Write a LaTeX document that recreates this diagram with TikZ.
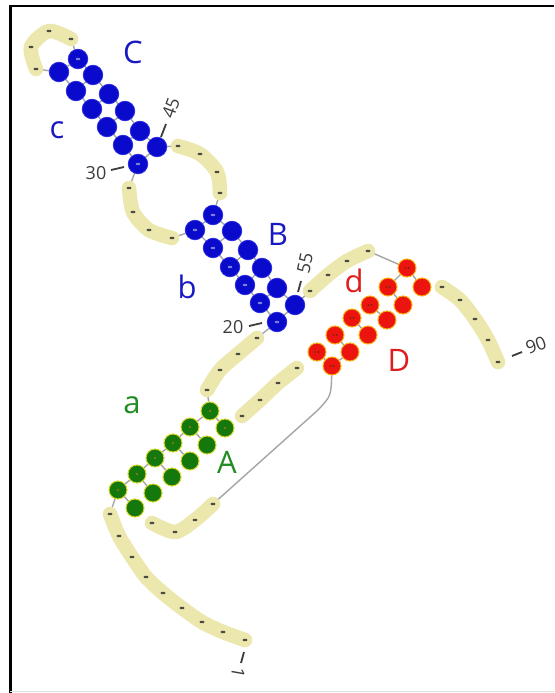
\documentclass[tikz,border=0pt]{standalone}
\usepackage{fontspec}
\setmainfont{Open Sans}
\usetikzlibrary{backgrounds}
\definecolor{bandc}{RGB}{236,231,172}
\definecolor{linkc}{RGB}{165,165,165}
\definecolor{dotc}{RGB}{75,75,65}
\definecolor{ntblue}{RGB}{10,10,205}
\definecolor{ntblueedge}{RGB}{40,40,225}
\definecolor{ntred}{RGB}{235,20,15}
\definecolor{ntrededge}{RGB}{250,175,20}
\definecolor{ntgreen}{RGB}{20,120,12}
\definecolor{ntgreenedge}{RGB}{215,215,40}
\definecolor{markblue}{RGB}{120,130,210}
\definecolor{markred}{RGB}{110,40,0}
\definecolor{markgreen}{RGB}{160,120,20}
\definecolor{lblblue}{RGB}{25,25,195}
\definecolor{lblred}{RGB}{222,30,30}
\definecolor{lblgreen}{RGB}{35,140,35}
\definecolor{numc}{RGB}{60,60,60}
\begin{document}
\begin{tikzpicture}[x=1pt,y=-1pt,
  band/.style={draw=bandc,line width=14.5pt,line cap=round,line join=round},
  link/.style={draw=linkc,line width=1.4pt},
  unp/.style={rectangle,rounded corners=0.8pt,fill=dotc,inner sep=0pt,minimum width=4.6pt,minimum height=2.4pt},
  pairb/.style={circle,inner sep=0pt,minimum size=19.5pt,fill=ntblue,draw=ntblueedge,line width=0.8pt},
  pairr/.style={circle,inner sep=0pt,minimum size=18pt,fill=ntred,draw=ntrededge,line width=1pt},
  pairg/.style={circle,inner sep=0pt,minimum size=18pt,fill=ntgreen,draw=ntgreenedge,line width=1pt},
  lbl/.style={font=\fontsize{31}{31}\selectfont,inner sep=0pt},
  num/.style={font=\fontsize{18}{18}\selectfont,text=numc,inner sep=0pt},
  tick/.style={draw=numc,line width=1.8pt}
]
\useasboundingbox (0,0) rectangle (554,693);

% unpaired nucleotides
\foreach \n/\x/\y in {1/245/640,2/223/632,3/202/622,4/182/608,5/163/593,6/146/577,7/132/557,8/119/536,9/110/514,
  16/207/390,17/220/370,18/238/354,19/257/338,
  26/172/238,27/149/230,28/133/212,29/129/188,
  36/36/69,37/31/47,38/49/31,39/71/39,
  46/178/146,47/200/154,48/217/172,49/220/193,
  56/310/291,57/328/275,58/347/261,59/368/251,
  66/297/368,67/278/383,68/260/400,69/242/416,
  76/152/523,77/175/532,78/195/520,79/213/504,
  86/442/287,87/460/300,88/475/319,89/488/340,90/498/362}
  \node[unp] (n\n) at (\x,\y) {};

% helix A (green)
\foreach \n/\x/\y in {10/118/490,11/137/474,12/155/458,13/173/443,14/190/427,15/210/411,
  70/225/428,71/207/445,72/190/461,73/172/477,74/153/493,75/135/508}
  \node[pairg] (n\n) at (\x,\y) {};
% helix B and C (blue)
\foreach \n/\x/\y in {20/277/322,21/260/303,22/245/285,23/230/267,24/213/248,25/195/230,
  50/213/215,51/232/231,52/248/250,53/262/268,54/277/288,55/295/305,
  30/138/164,31/123/145,32/107/127,33/92/109,34/76/91,35/59/72,
  40/78/59,41/93/75,42/109/94,43/125/111,44/140/131,45/157/147}
  \node[pairb] (n\n) at (\x,\y) {};
% helix D (red)
\foreach \n/\x/\y in {60/407/268,61/388/287,62/370/305,63/352/318,64/335/335,65/317/352,
  80/332/366,81/350/352,82/368/335,83/387/320,84/403/305,85/422/287}
  \node[pairr] (n\n) at (\x,\y) {};

% marks inside paired nucleotides
\foreach \n in {20,...,25,30,...,35,40,...,45,50,...,55}
  \fill[markblue] (n\n.center) ellipse (2.4pt and 1.2pt);
\foreach \n in {60,...,65,80,...,85}{
  \fill[markred] ([xshift=-1.6pt]n\n.center) circle (0.9pt);
  \fill[markred] ([xshift=1.6pt]n\n.center) circle (0.9pt);}
\foreach \n in {10,...,15,70,...,75}
  \fill[markgreen] (n\n.center) circle (1.1pt);

\begin{pgfonlayer}{background}
  \fill[white] (0,0) rectangle (554,693);
  % backbone links
  \foreach \i [evaluate=\i as \k using int(\i+1)] in {1,...,58,60,...,78,80,...,89}
    \draw[link] (n\i) -- (n\k);
  \draw[link] (n59) -- (n60);
  \coordinate (bend) at (318,410);
  \draw[link] (n79) -- (bend) .. controls (331,396) .. (n80);
  % base pair links
  \foreach \i/\j in {10/75,11/74,12/73,13/72,14/71,15/70,
                     20/55,21/54,22/53,23/52,24/51,25/50,
                     30/45,31/44,32/43,33/42,34/41,35/40,
                     60/85,61/84,62/83,63/82,64/81,65/80}
    \draw[link] (n\i) -- (n\j);
  % loop bands
  \draw[band] plot[smooth] coordinates {(n1.center) (n2.center) (n3.center) (n4.center) (n5.center) (n6.center) (n7.center) (n8.center) (n9.center)};
  \draw[band] plot[smooth] coordinates {(n16.center) (n17.center) (n18.center) (n19.center)};
  \draw[band] plot[smooth] coordinates {(n26.center) (n27.center) (n28.center) (n29.center)};
  \draw[band] plot[smooth] coordinates {(n36.center) (n37.center) (n38.center) (n39.center)};
  \draw[band] plot[smooth] coordinates {(n46.center) (n47.center) (n48.center) (n49.center)};
  \draw[band] plot[smooth] coordinates {(n56.center) (n57.center) (n58.center) (n59.center)};
  \draw[band] plot[smooth] coordinates {(n66.center) (n67.center) (n68.center) (n69.center)};
  \draw[band] plot[smooth] coordinates {(n76.center) (n77.center) (n78.center) (n79.center)};
  \draw[band] plot[smooth] coordinates {(n86.center) (n87.center) (n88.center) (n89.center) (n90.center)};
\end{pgfonlayer}

% helix labels
\node[lbl,text=lblblue] (lC) at (133,52) {C};
\node[lbl,text=lblblue] (lc) at (57,130) {c};
\node[lbl,text=lblblue] (lB) at (278,234) {B};
\node[lbl,text=lblblue] (lb) at (187,287) {b};
\node[lbl,text=lblred] (ld) at (354,281) {d};
\node[lbl,text=lblred] (lD) at (399,360) {D};
\node[lbl,text=lblgreen] (lA) at (227,462) {A};
\node[lbl,text=lblgreen] (la) at (132,405) {a};

% position numbers
\draw[tick] (111,170) -- (124,167);
\node[num] (t30) at (96,173) {30};
\draw[tick] (161,137) -- (166,124);
\node[num,rotate=70] (t45) at (171,108) {45};
\draw[tick] (249,326) -- (262,323);
\node[num] (t20) at (233,327) {20};
\draw[tick] (298,292) -- (301,281);
\node[num,rotate=78] (t55) at (305,263) {55};
\draw[tick] (512,356) -- (522,352);
\node[num,rotate=20] (t90) at (536,345) {90};
\draw[tick] (244,652) -- (241,663);
\node[num,rotate=-100] (t1) at (238,673) {1};

% frame
\draw[line width=2.6pt] (554,6.2) -- (10.3,6.2) -- (10.3,693);
\draw[black!12,line width=1pt] (10.3,691.5) -- (554,691.5);
\end{tikzpicture}
\end{document}
